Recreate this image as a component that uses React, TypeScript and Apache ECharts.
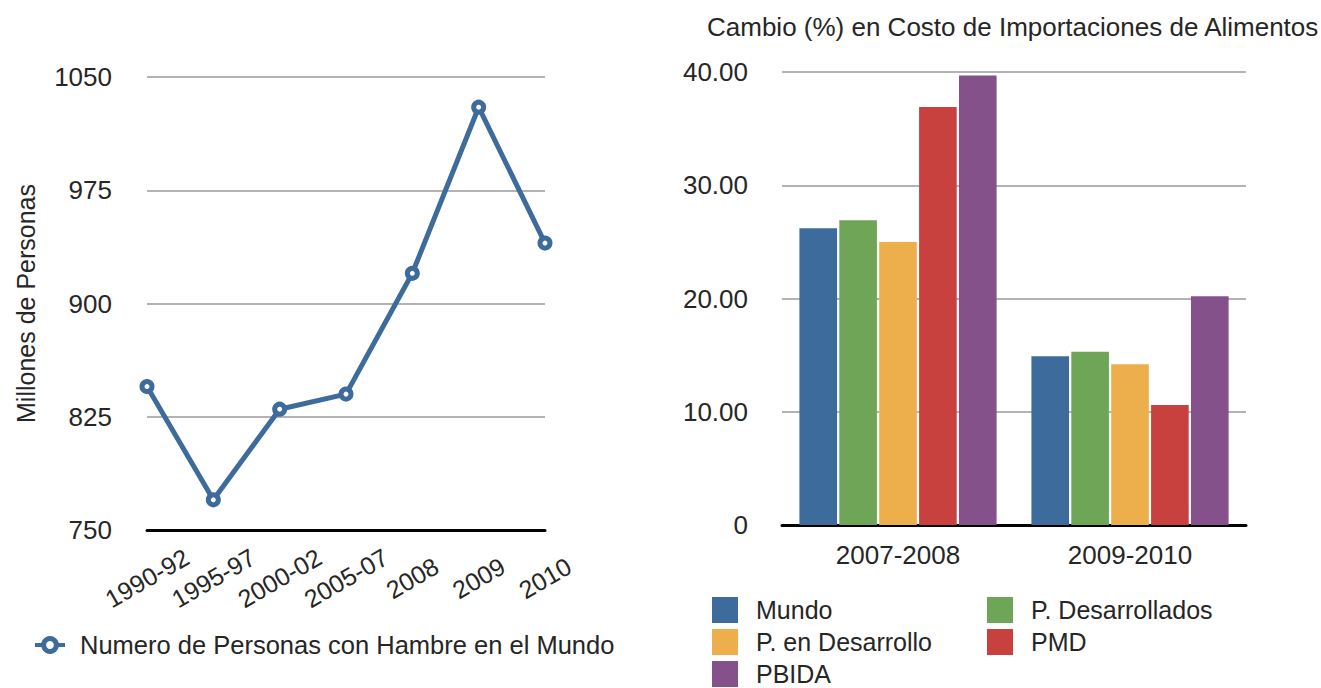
import React, { useEffect, useRef } from "react";
import * as echarts from "echarts";

const lineCategories = ["1990-92", "1995-97", "2000-02", "2005-07", "2008", "2009", "2010"];
const hungerValues = [845, 770, 830, 840, 920, 1030, 940];
const lineSeriesName = "Numero de Personas con Hambre en el Mundo";

const barCategories = ["2007-2008", "2009-2010"];
const mundo = [26.2, 14.9];
const desarrollados = [26.9, 15.3];
const enDesarrollo = [25.0, 14.2];
const pmd = [36.9, 10.6];
const pbida = [39.7, 20.2];
const barNames = ["Mundo", "P. Desarrollados", "P. en Desarrollo", "PMD", "PBIDA"];
const barColors = ["#3d6b9b", "#6ea557", "#ecaf4b", "#c9413f", "#84518a"];

const FONT = "Liberation Sans";
const LINE_BLUE = "#3d6b9b";

export default function App() {
  const ref = useRef<HTMLDivElement>(null);
  useEffect(() => {
    const chart = echarts.init(ref.current!, null, { renderer: "svg" });
    const barData = [mundo, desarrollados, enDesarrollo, pmd, pbida];
    const textStyle = { fontFamily: FONT, color: "#262626", fontSize: 26 };
    const sqLegend = {
      orient: "vertical",
      top: 597,
      height: 110,
      padding: 0,
      icon: "rect",
      itemWidth: 26,
      itemHeight: 26,
      itemGap: 6,
      textStyle: { ...textStyle, fontSize: 25, padding: [0, 0, 0, 13] },
    };
    chart.setOption({
      animation: false,
      textStyle: { fontFamily: FONT },
      title: {
        text: "Cambio (%) en Costo de Importaciones de Alimentos",
        left: 707,
        top: 14,
        padding: 0,
        textStyle: { ...textStyle, fontSize: 26, fontWeight: "normal" },
      },
      legend: [
        {
          data: [lineSeriesName],
          left: 33,
          top: 632,
          padding: 0,
          itemWidth: 30,
          itemHeight: 16,
          itemStyle: { color: "#fff", borderColor: LINE_BLUE, borderWidth: 5 },
          lineStyle: { width: 4, color: LINE_BLUE },
          textStyle: { ...textStyle, fontSize: 25.5, padding: [0, 0, 0, 10] },
        },
        { ...sqLegend, data: ["Mundo", "P. en Desarrollo", "PBIDA"], left: 712 },
        { ...sqLegend, data: ["P. Desarrollados", "PMD"], left: 987 },
      ],
      grid: [
        { left: 147, right: 776, top: 77, bottom: 158 },
        { left: 782, right: 75, top: 72, bottom: 163 },
      ],
      xAxis: [
        {
          type: "category",
          gridIndex: 0,
          data: lineCategories,
          boundaryGap: false,
          axisLine: { lineStyle: { color: "#000", width: 3 } },
          axisTick: { show: false },
          axisLabel: {
            ...textStyle,
            fontSize: 25,
            rotate: 30,
            margin: 48,
            align: "center",
            verticalAlign: "middle",
          },
        },
        {
          type: "category",
          gridIndex: 1,
          data: barCategories,
          axisLine: { lineStyle: { color: "#000", width: 3 } },
          axisTick: { show: false },
          axisLabel: { ...textStyle, margin: 17 },
        },
      ],
      yAxis: [
        {
          type: "value",
          gridIndex: 0,
          min: 750,
          max: 1050,
          interval: 75,
          name: "Millones de Personas",
          nameLocation: "middle",
          nameGap: 109,
          nameTextStyle: { ...textStyle, fontSize: 25 },
          axisLine: { show: false },
          axisTick: { show: false },
          axisLabel: { ...textStyle, margin: 35, formatter: (v: number) => String(v) },
          splitLine: { lineStyle: { color: "#b3b3b3", width: 2 } },
        },
        {
          type: "value",
          gridIndex: 1,
          min: 0,
          max: 40,
          interval: 10,
          axisLine: { show: false },
          axisTick: { show: false },
          axisLabel: {
            ...textStyle,
            margin: 34,
            formatter: (v: number) => (v === 0 ? "0" : v.toFixed(2)),
          },
          splitLine: { lineStyle: { color: "#b3b3b3", width: 2 } },
        },
      ],
      series: [
        {
          name: lineSeriesName,
          type: "line",
          xAxisIndex: 0,
          yAxisIndex: 0,
          data: hungerValues,
          color: LINE_BLUE,
          lineStyle: { width: 5, color: LINE_BLUE },
          symbol: "circle",
          symbolSize: 10,
          itemStyle: { color: "#fff", borderColor: LINE_BLUE, borderWidth: 5 },
          z: 5,
        },
        ...barNames.map((name, i) => ({
          name,
          type: "bar",
          xAxisIndex: 1,
          yAxisIndex: 1,
          data: barData[i],
          itemStyle: { color: barColors[i] },
          color: barColors[i],
          barGap: "6%",
          barCategoryGap: "15%",
        })),
      ],
    });
    return () => chart.dispose();
  }, []);
  return (
    <div
      ref={ref}
      style={{ position: "absolute", left: 0, top: 0, width: 1321, height: 688, background: "#fff" }}
    />
  );
}
